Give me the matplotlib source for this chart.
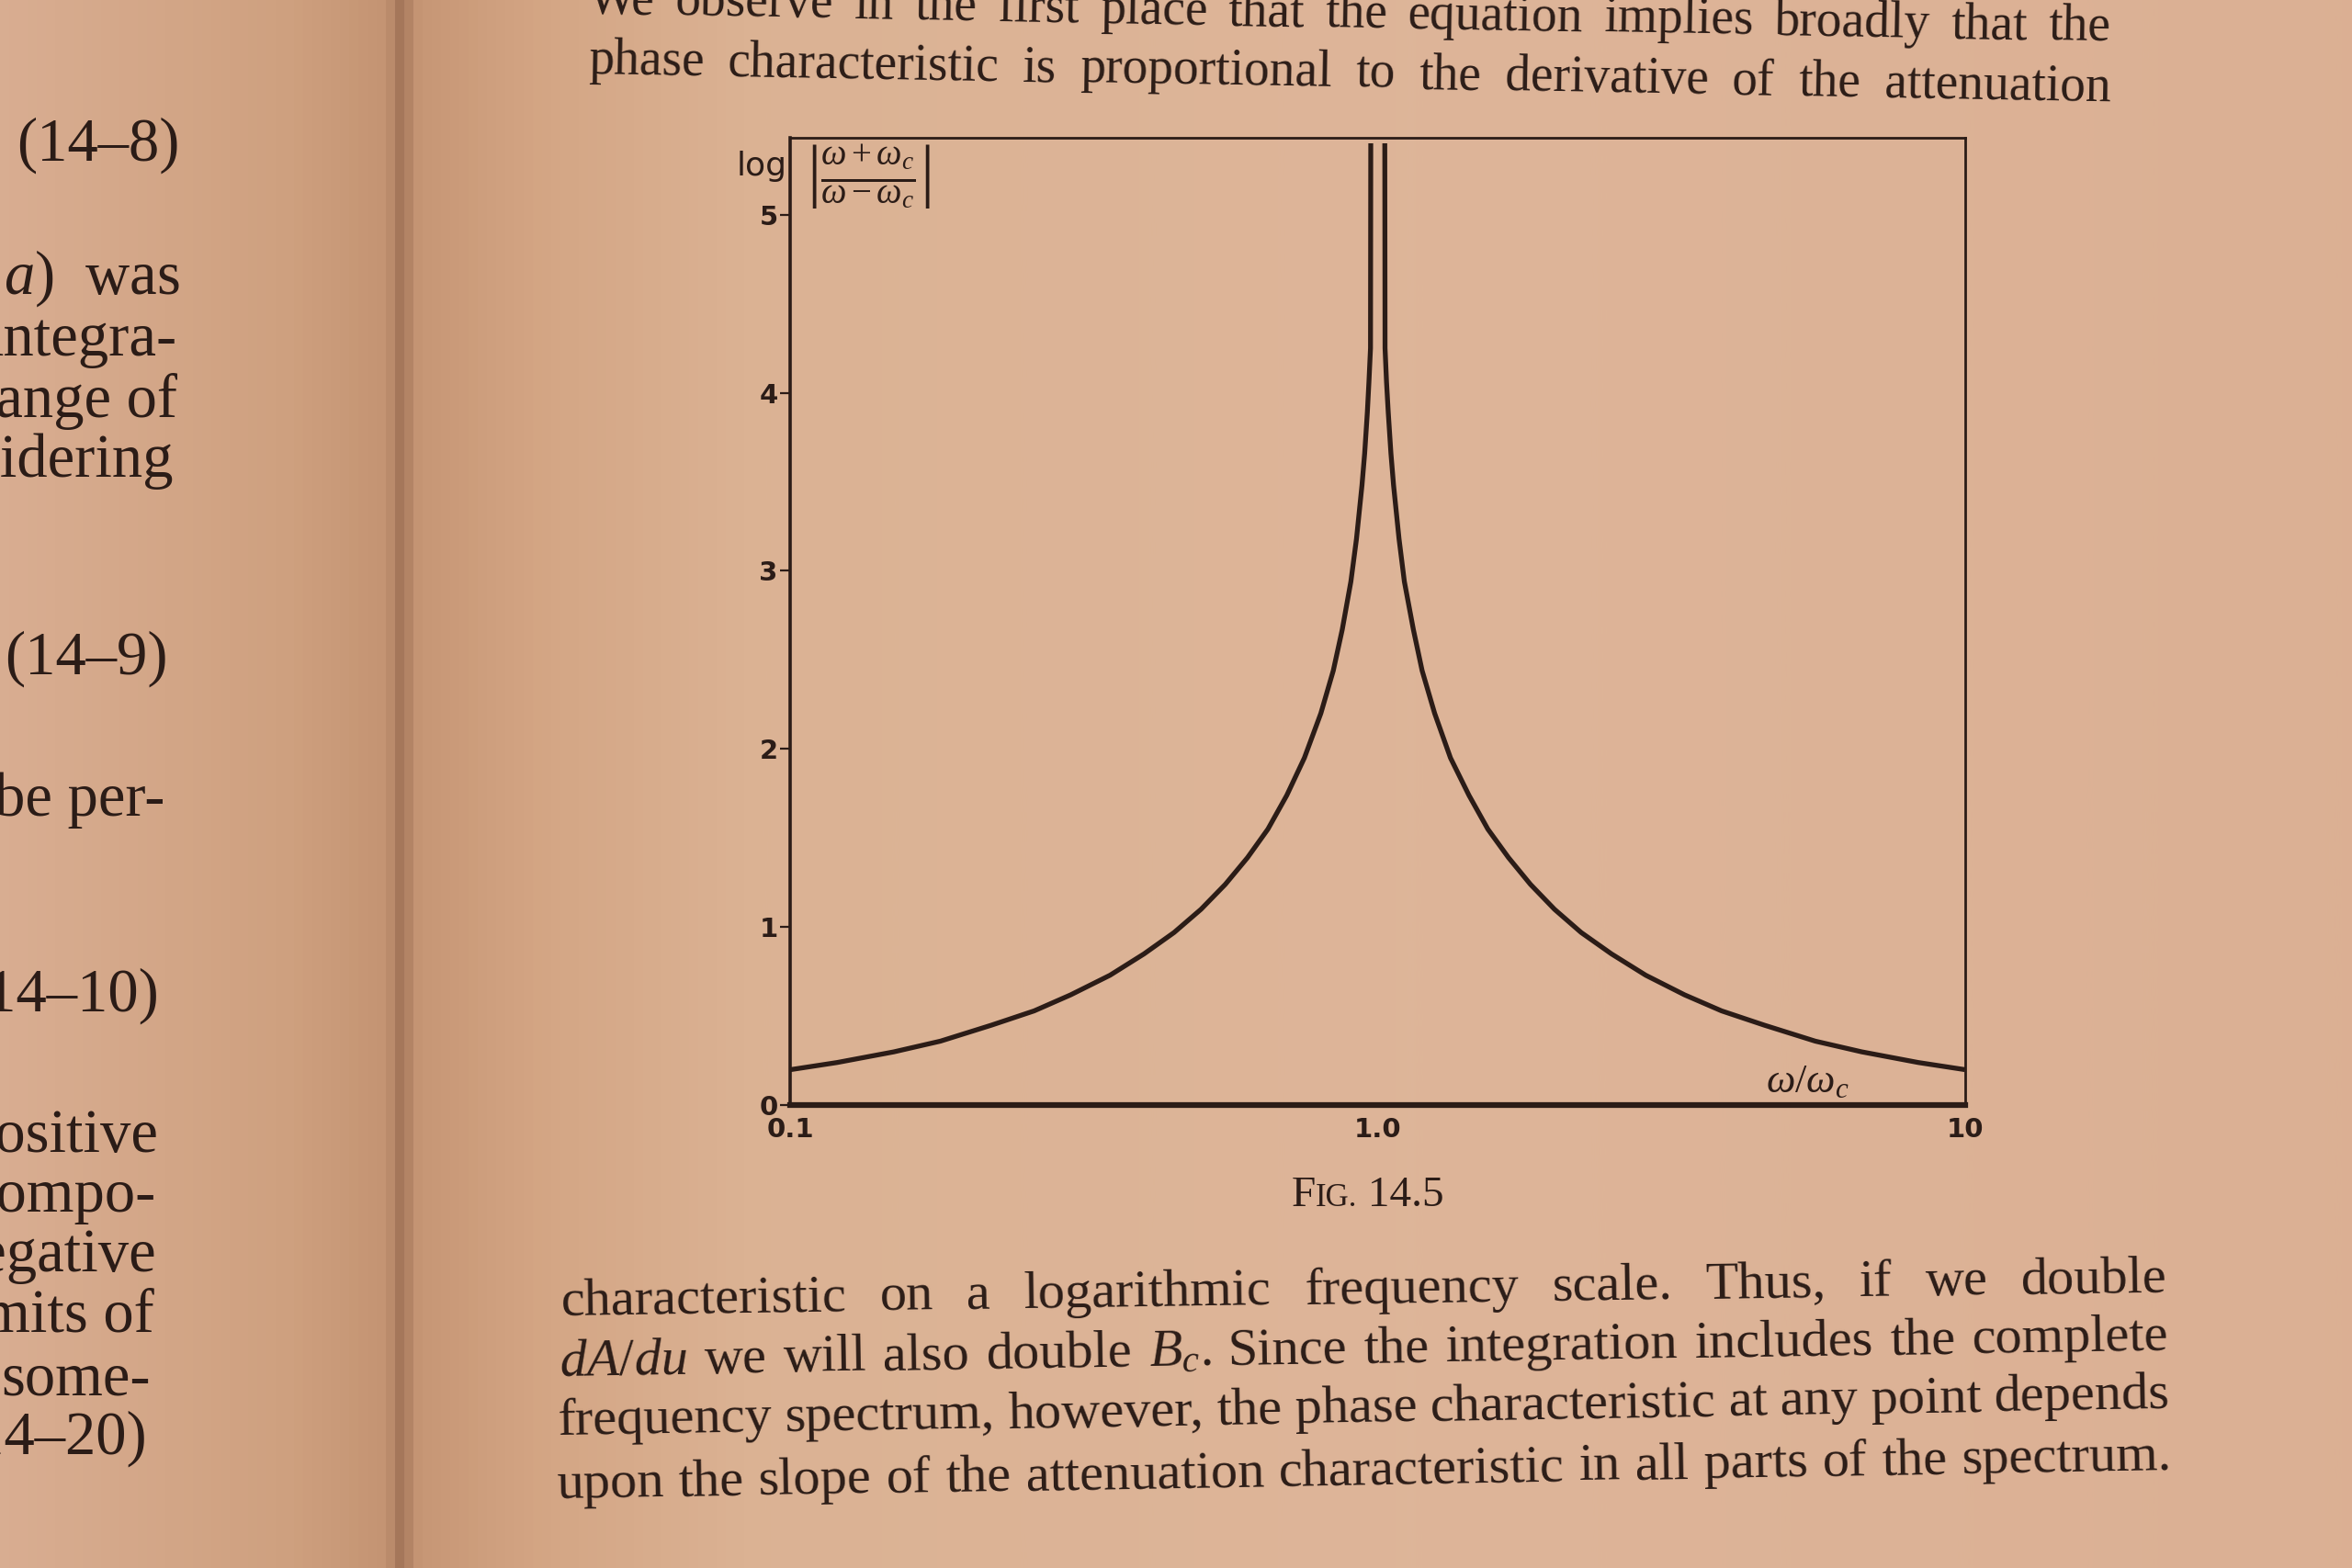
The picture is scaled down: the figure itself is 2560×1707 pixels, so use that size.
import numpy as np
import matplotlib
matplotlib.use('Agg')
import matplotlib.pyplot as plt
from matplotlib.colors import LinearSegmentedColormap

# values: log|(w+wc)/(w-wc)| against w/wc
left_x = [0.1, 0.12, 0.15, 0.18, 0.22, 0.26, 0.3, 0.35, 0.4, 0.45, 0.5, 0.55,
          0.6, 0.65, 0.7, 0.75, 0.8, 0.84, 0.87, 0.9, 0.92, 0.94, 0.95, 0.96,
          0.966, 0.972, 0.973]
left_y = [0.20, 0.24, 0.30, 0.36, 0.45, 0.53, 0.62, 0.73, 0.85, 0.97, 1.10, 1.24,
          1.39, 1.55, 1.74, 1.95, 2.20, 2.44, 2.67, 2.94, 3.18, 3.48, 3.66, 3.89,
          4.06, 4.25, 5.4]
right_x = [1.028, 1.029, 1.035, 1.042, 1.053, 1.064, 1.087, 1.11, 1.15, 1.19,
           1.25, 1.33, 1.43, 1.54, 1.67, 1.82, 2.0, 2.22, 2.5, 2.86, 3.33, 3.85,
           4.55, 5.56, 6.67, 8.33, 10.0]
right_y = [5.4, 4.25, 4.06, 3.89, 3.66, 3.48, 3.18, 2.94, 2.67, 2.44,
           2.20, 1.95, 1.74, 1.55, 1.39, 1.24, 1.10, 0.97, 0.85, 0.73, 0.62, 0.53,
           0.45, 0.36, 0.30, 0.24, 0.20]

y_ticks = [0, 1, 2, 3, 4, 5]
x_ticks = [0.1, 1.0, 10]
x_tick_labels = ['0.1', '1.0', '10']

top_lines = ["We observe in the first place that the equation implies broadly that the",
             "phase characteristic is proportional to the derivative of the attenuation"]
bottom_lines = ["characteristic on a logarithmic frequency scale. Thus, if we double",
                "$dA/du$ we will also double $B_c$.  Since the integration includes the complete",
                "frequency spectrum, however, the phase characteristic at any point depends",
                "upon the slope of the attenuation characteristic in all parts of the spectrum."]
margin_lines = ["(14\u20138)", "$a$)  was", "integra-", "range of", "considering",
                "(14\u20139)", "be per-", "(14\u201310)", "positive", "compo-",
                "negative", "limits of", "some-", "(14\u201320)"]

INK = '#2b1c17'
SERIF = 'Liberation Serif'
W, H = 2560, 1707
S = W / 1568.0  # reference preview px -> output px

plt.rcParams['mathtext.fontset'] = 'custom'
plt.rcParams['mathtext.rm'] = 'Liberation Serif'
plt.rcParams['mathtext.it'] = 'Liberation Serif:italic'
plt.rcParams['mathtext.bf'] = 'Liberation Serif:bold'

fig = plt.figure(figsize=(W / 100, H / 100), dpi=100)
r = fig.canvas.get_renderer()

# paper background with the gutter shadow
bg = fig.add_axes([0, 0, 1, 1], zorder=-5)
paper = LinearSegmentedColormap.from_list('paper', [
    (0.0, (0.85, 0.68, 0.57)), (0.12, (0.81, 0.63, 0.50)),
    (0.163, (0.77, 0.58, 0.45)), (0.169, (0.64, 0.46, 0.35)),
    (0.177, (0.78, 0.59, 0.46)), (0.23, (0.83, 0.65, 0.52)),
    (0.32, (0.86, 0.70, 0.58)), (0.6, (0.87, 0.71, 0.60)),
    (1.0, (0.86, 0.69, 0.58))])
bg.imshow(np.linspace(0, 1, 2048)[None, :], aspect='auto', cmap=paper,
          extent=[0, 1, 0, 1])
bg.axis('off')


def fx(px):
    return px * S / W


def fy(py):
    return 1 - py * S / H


def justify(line, x0, x1, y0, y1, size):
    # spread words between x0 and x1 (preview px), baseline from y0 to y1
    words = line.split()
    ws = []
    for w in words:
        t = fig.text(0, 0, w, fontsize=size, family=SERIF)
        ws.append(t.get_window_extent(r).width)
        t.remove()
    L = np.hypot(x1 - x0, y1 - y0) * S
    gap = (L - sum(ws)) / (len(words) - 1)
    ang = np.arctan2(y1 - y0, x1 - x0)
    d = 0.0
    for w, wd in zip(words, ws):
        px = x0 * S + d * np.cos(ang)
        py = y0 * S + d * np.sin(ang)
        fig.text(px / W, 1 - py / H, w, fontsize=size, family=SERIF, color=INK,
                 ha='left', va='baseline', rotation=-np.degrees(ang),
                 rotation_mode='anchor')
        d += wd + gap


justify(top_lines[0], 392, 1407, 9, 27, 40)
justify(top_lines[1], 392, 1407, 49, 67, 40)
bl = [(374, 1445, 877, 861), (373, 1446, 917, 900),
      (372, 1447, 957, 939), (371, 1448, 999, 980)]
for line, (a, b, c, d) in zip(bottom_lines, bl):
    justify(line, a, b, c, d, 42)

# left page margin, clipped by the photo edge
margin_pos = [(120, 107), (120, 196), (118, 237), (118, 278), (116, 318),
              (112, 449), (110, 544), (106, 674), (106, 768), (104, 808),
              (104, 848), (103, 888), (100, 930), (98, 969)]
for txt, (x, y) in zip(margin_lines, margin_pos):
    fig.text(fx(x), fy(y), txt, fontsize=48, family=SERIF, color=INK,
             ha='right', va='baseline')

# the chart
ax = fig.add_axes([fx(527), fy(737), fx(1310) - fx(527), fy(92) - fy(737)])
ax.set_facecolor('none')
ax.set_xscale('log')
ax.plot(left_x, left_y, color=INK, lw=3.8, solid_capstyle='butt')
ax.plot(right_x, right_y, color=INK, lw=3.8, solid_capstyle='butt')
ax.set_xlim(0.1, 10)
ax.set_ylim(0, 5.43)
ax.set_yticks(y_ticks)
ax.set_yticklabels([str(v) for v in y_ticks])
ax.set_xticks(x_ticks)
ax.set_xticklabels(x_tick_labels)
ax.minorticks_off()
ax.tick_params(axis='y', length=8, width=1.6, color=INK, pad=2,
               labelsize=21, labelcolor=INK)
ax.tick_params(axis='x', length=0, pad=9, labelsize=21, labelcolor=INK)
for lab in ax.get_xticklabels() + ax.get_yticklabels():
    lab.set_fontweight('bold')
    lab.set_family('DejaVu Sans')
for side, lw in [('left', 2.6), ('right', 2.0), ('top', 2.0), ('bottom', 4.5)]:
    ax.spines[side].set_linewidth(lw)
    ax.spines[side].set_color(INK)

fig.text(fx(508), fy(117), 'log', fontsize=26, family='DejaVu Sans',
         color=INK, ha='center', va='baseline')
fig.text(fx(579), fy(118), r'$\left|\frac{\omega+\omega_c}{\omega-\omega_c}\right|$',
         fontsize=40, color=INK, ha='center', va='center')
fig.text(fx(1205), fy(728), r'$\omega/\omega_c$', fontsize=32, color=INK,
         ha='center', va='baseline')

# caption in small caps
parts = [('F', 34), ('IG.', 25), (' 14.5', 34)]
widths = []
for s, fs in parts:
    t = fig.text(0, 0, s, fontsize=fs, family=SERIF)
    widths.append(t.get_window_extent(r).width)
    t.remove()
x = 912 * S - sum(widths) / 2
for (s, fs), wd in zip(parts, widths):
    fig.text(x / W, fy(804), s, fontsize=fs, family=SERIF, color=INK,
             ha='left', va='baseline')
    x += wd

fig.savefig('out.png', dpi=100)
